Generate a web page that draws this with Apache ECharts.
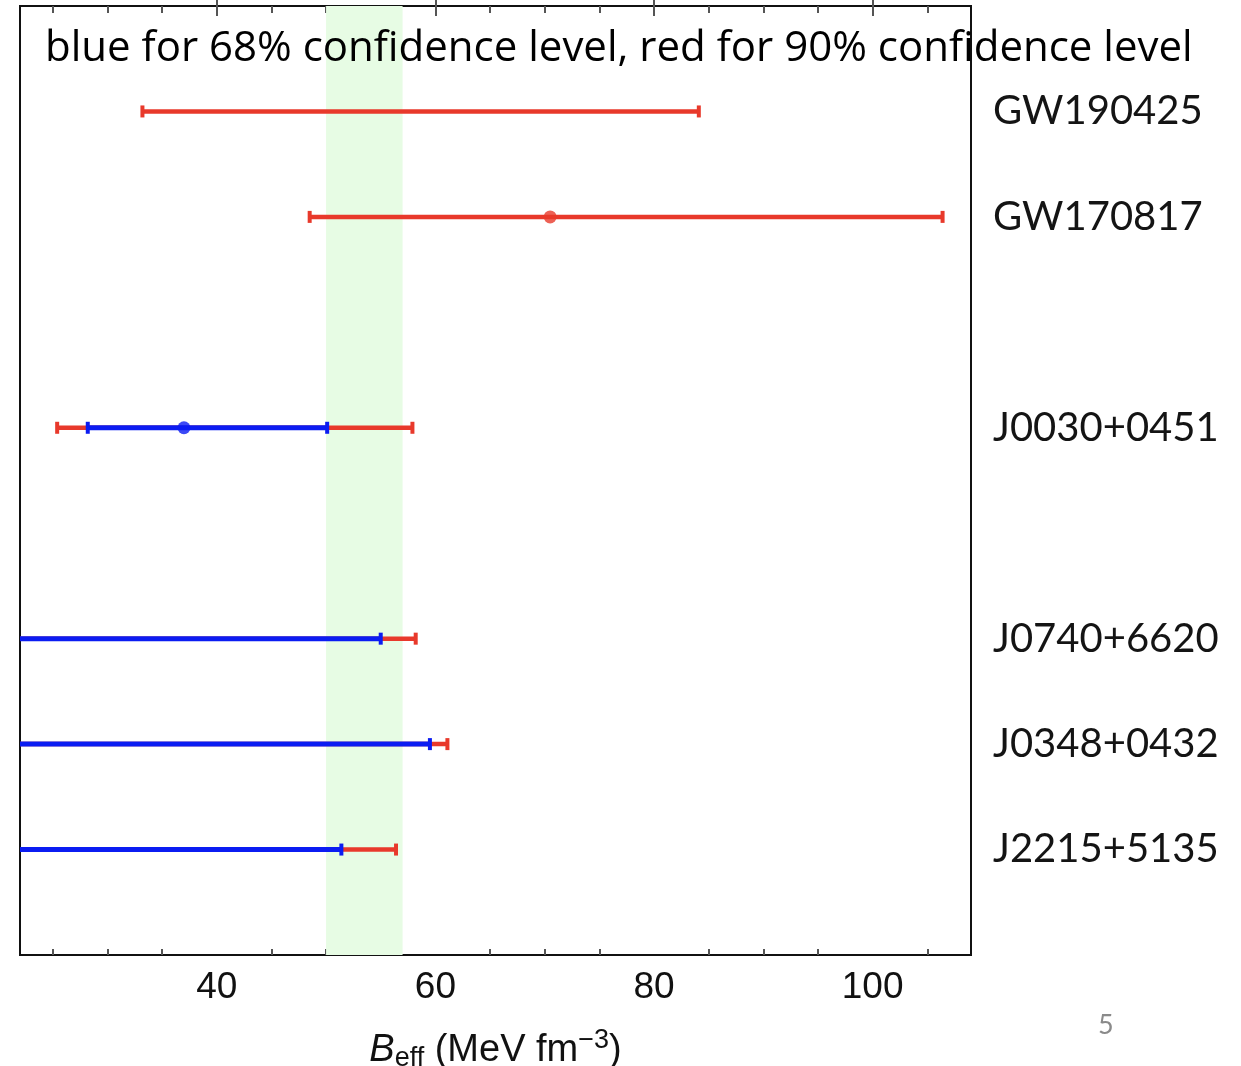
<!DOCTYPE html>
<html>
<head>
<meta charset="utf-8">
<title>Beff constraints</title>
<script src="https://cdn.jsdelivr.net/npm/echarts@6/dist/echarts.min.js"></script>
<style>
  html, body { margin: 0; padding: 0; background: #fff; }
</style>
</head>
<body>
<div id="main" style="width: 1241px; height: 1066px;"></div>
<script type="text/javascript">
// sources, top to bottom, and their row on the (inverted) y axis
var names  = ['GW190425', 'GW170817', 'J0030+0451', 'J0740+6620', 'J0348+0432', 'J2215+5135'];
var rowPos = [1, 2, 4, 6, 7, 8];

// 90% intervals (red); null low = runs off the left edge
var red90Low  = [33.2, 48.5, 25.4, null, null, null];
var red90High = [84.1, 106.4, 57.9, 58.2, 61.1, 56.4];

// 68% intervals (blue); null high = no 68% interval given
var blue68Low  = [null, null, 28.2, null, null, null];
var blue68High = [null, null, 50.1, 55.0, 59.5, 51.4];

// central values
var medians = [null, 70.5, 37.0, null, null, null];

// shaded band
var bandLow = 50, bandHigh = 57;

var xMin = 22, xMax = 109;
var majorTicks = [40, 60, 80, 100];
var minorTicks = [25, 30, 35, 45, 50, 55, 65, 70, 75, 85, 90, 95, 105];

var RED = '#e8392b';
var BLUE = '#0b1cf2';

var redData = [], blueData = [], dotData = [];
for (var i = 0; i < names.length; i++) {
    redData.push([red90Low[i] == null ? xMin : red90Low[i], red90High[i], rowPos[i], red90Low[i] == null ? 0 : 1]);
    if (blue68High[i] != null) {
        blueData.push([blue68Low[i] == null ? xMin : blue68Low[i], blue68High[i], rowPos[i], blue68Low[i] == null ? 0 : 1]);
    }
    if (medians[i] != null) {
        dotData.push({ value: [medians[i], rowPos[i]], itemStyle: { color: blue68High[i] != null ? BLUE : RED } });
    }
}

function barRenderer(color, width) {
    return function (params, api) {
        var y = api.value(2);
        var p1 = api.coord([api.value(0), y]);
        var p2 = api.coord([api.value(1), y]);
        var kids = [{
            type: 'line',
            shape: { x1: p1[0], y1: p1[1], x2: p2[0], y2: p2[1] },
            style: { stroke: color, lineWidth: width }
        }, {
            type: 'rect',
            shape: { x: p2[0] - 2, y: p2[1] - 6, width: 4, height: 12 },
            style: { fill: color }
        }];
        if (api.value(3)) {
            kids.push({
                type: 'rect',
                shape: { x: p1[0] - 2, y: p1[1] - 6, width: 4, height: 12 },
                style: { fill: color }
            });
        }
        return { type: 'group', children: kids };
    };
}

function tickAxis(pos, values, len, labels) {
    return {
        type: 'value', position: pos, min: xMin, max: xMax,
        axisLine: { show: false },
        splitLine: { show: false },
        axisTick: { show: true, inside: true, length: len, customValues: values,
                    lineStyle: { color: '#555', width: 2 } },
        axisLabel: labels ? {
            show: true, customValues: values, margin: 14,
            fontFamily: 'Liberation Sans', fontSize: 37, color: '#111'
        } : { show: false }
    };
}

var xBottom = tickAxis('bottom', majorTicks, 10, true);
xBottom.name = '{i|B}{sub|eff} (MeV fm{sup|\u22123})';
xBottom.nameLocation = 'middle';
xBottom.nameGap = 72;
xBottom.nameTextStyle = {
    fontFamily: 'Liberation Sans', fontSize: 38, color: '#111',
    rich: {
        i: { fontFamily: 'Liberation Sans', fontSize: 38, fontStyle: 'italic', color: '#111' },
        sub: { fontFamily: 'Liberation Sans', fontSize: 27, color: '#111', padding: [16, 0, 0, 0] },
        sup: { fontFamily: 'Liberation Sans', fontSize: 27, color: '#111', padding: [0, 0, 20, 0] }
    }
};

var myChart = echarts.init(document.getElementById('main'));

var option = {
    animation: false,
    backgroundColor: '#fff',
    title: {
        text: 'blue for 68% confidence level, red for 90% confidence level',
        left: 40, top: 23,
        textStyle: { fontFamily: 'Open Sans', fontSize: 42, fontWeight: 'normal', color: '#000' }
    },
    grid: {
        left: 20, right: 270, top: 6, bottom: 111,
        outerBoundsMode: 'none',
        show: true, borderColor: '#111', borderWidth: 2, backgroundColor: 'transparent'
    },
    xAxis: [
        xBottom,
        tickAxis('bottom', minorTicks, 6, false),
        tickAxis('top', majorTicks, 10, false),
        tickAxis('top', minorTicks, 7, false)
    ],
    yAxis: {
        type: 'value', inverse: true, min: 0, max: 9, interval: 1, position: 'right',
        axisLine: { show: false }, axisTick: { show: false }, splitLine: { show: false },
        axisLabel: {
            margin: 22, fontFamily: 'Lato', fontSize: 40, color: '#141414',
            padding: [6, 0, 0, 0],
            formatter: function (v) {
                var k = rowPos.indexOf(v);
                return k < 0 ? '' : names[k];
            }
        }
    },
    series: [
        {
            type: 'line', data: [], z: 1, silent: true,
            markArea: {
                silent: true,
                itemStyle: { color: '#e7fce4' },
                data: [[{ xAxis: bandLow }, { xAxis: bandHigh }]]
            }
        },
        {
            type: 'custom', name: '90%', z: 3,
            renderItem: barRenderer(RED, 4.5),
            encode: { x: [0, 1], y: 2 },
            data: redData
        },
        {
            type: 'custom', name: '68%', z: 4,
            renderItem: barRenderer(BLUE, 5),
            encode: { x: [0, 1], y: 2 },
            data: blueData
        },
        {
            type: 'scatter', z: 5, symbolSize: 13,
            data: dotData
        }
    ],
    graphic: [{
        type: 'text', left: 1098, top: 1012,
        style: { text: '5', fontFamily: 'Lato', fontSize: 27, fill: '#8a8a8a' }
    }]
};

myChart.setOption(option);
</script>
</body>
</html>
